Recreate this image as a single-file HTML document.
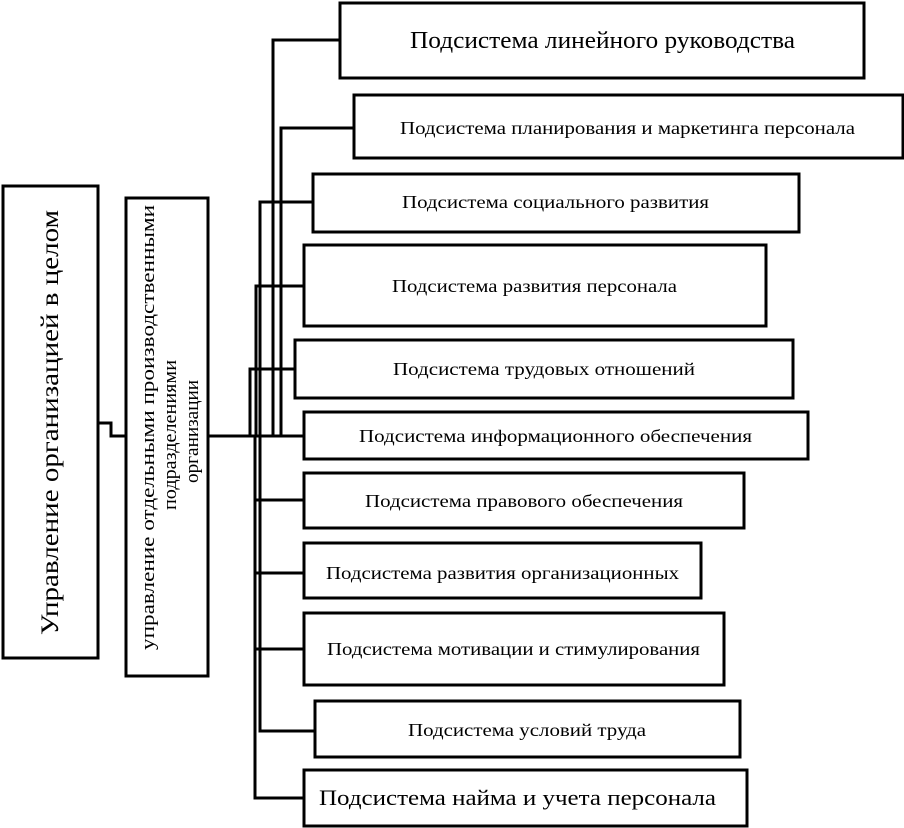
<!DOCTYPE html>
<html><head><meta charset="utf-8"><style>body{margin:0;background:#fff}svg{display:block}text{font-family:"Liberation Serif",serif;fill:#000}</style></head><body>
<svg width="904" height="828" viewBox="0 0 904 828" xmlns="http://www.w3.org/2000/svg">
<g fill="none" stroke="#000" stroke-width="3">
<rect x="3" y="186" width="95" height="472"/>
<rect x="126" y="198" width="82" height="478"/>
<rect x="340" y="3" width="524" height="75"/>
<rect x="354" y="95" width="549" height="63"/>
<rect x="313" y="174" width="486" height="58"/>
<rect x="304" y="245" width="462" height="81"/>
<rect x="295" y="340" width="498" height="58"/>
<rect x="304" y="412" width="504" height="47"/>
<rect x="304" y="473" width="440" height="55"/>
<rect x="304" y="543" width="397" height="55"/>
<rect x="304" y="613" width="420" height="72"/>
<rect x="315" y="701" width="425" height="56"/>
<rect x="304" y="770" width="443" height="56"/>
<polyline points="98,423 111,423 111,436 126,436"/>
<line x1="208" y1="436" x2="304" y2="436"/>
<polyline points="340,40 273,40 273,436"/>
<polyline points="354,128 281,128 281,436"/>
<polyline points="313,202 260,202 260,731 315,731"/>
<polyline points="304,286 256,286 256,436"/>
<polyline points="295,369 250,369 250,436"/>
<polyline points="255,436 255,798 304,798"/>
<line x1="255" y1="500" x2="304" y2="500"/>
<line x1="255" y1="573" x2="304" y2="573"/>
<line x1="255" y1="649" x2="304" y2="649"/>
</g>
<text x="410" y="48" font-size="24" textLength="385" lengthAdjust="spacingAndGlyphs">Подсистема линейного руководства</text>
<text x="400" y="134" font-size="18" textLength="455" lengthAdjust="spacingAndGlyphs">Подсистема планирования и маркетинга персонала</text>
<text x="402" y="208" font-size="18" textLength="307" lengthAdjust="spacingAndGlyphs">Подсистема социального развития</text>
<text x="392" y="292" font-size="18" textLength="285" lengthAdjust="spacingAndGlyphs">Подсистема развития персонала</text>
<text x="393" y="375" font-size="18" textLength="302" lengthAdjust="spacingAndGlyphs">Подсистема трудовых отношений</text>
<text x="359" y="442" font-size="18" textLength="393" lengthAdjust="spacingAndGlyphs">Подсистема информационного обеспечения</text>
<text x="365" y="507" font-size="18" textLength="318" lengthAdjust="spacingAndGlyphs">Подсистема правового обеспечения</text>
<text x="326" y="579" font-size="18" textLength="353" lengthAdjust="spacingAndGlyphs">Подсистема развития организационных</text>
<text x="327" y="655" font-size="18" textLength="373" lengthAdjust="spacingAndGlyphs">Подсистема мотивации и стимулирования</text>
<text x="408" y="736" font-size="18" textLength="238" lengthAdjust="spacingAndGlyphs">Подсистема условий труда</text>
<text x="319" y="805" font-size="22" textLength="397" lengthAdjust="spacingAndGlyphs">Подсистема найма и учета персонала</text>
<text transform="translate(58,635) rotate(-90)" font-size="25" textLength="425" lengthAdjust="spacingAndGlyphs">Управление организацией в целом</text>
<g transform="translate(167,437) rotate(-90)" font-size="19">
<text x="-213" y="-13" textLength="445" lengthAdjust="spacingAndGlyphs">управление отдельными производственными</text>
<text x="-73" y="9" textLength="150" lengthAdjust="spacingAndGlyphs">подразделениями</text>
<text x="-46" y="31" textLength="103" lengthAdjust="spacingAndGlyphs">организации</text>
</g>
</svg>
</body></html>
